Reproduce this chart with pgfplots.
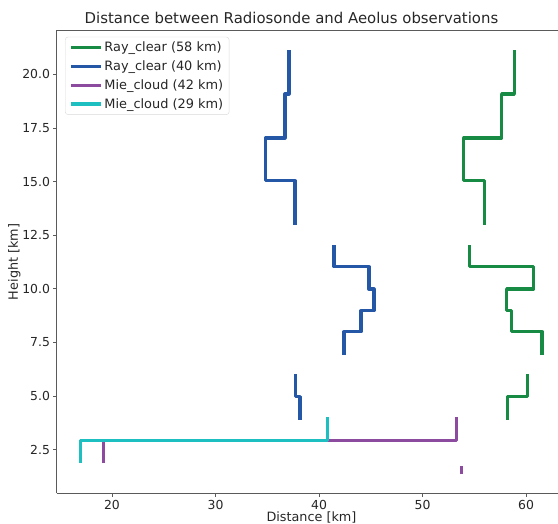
\documentclass[border=0pt]{standalone}
\usepackage{fontspec}
\setmainfont{DejaVu Sans}
\usepackage{pgfplots}
\pgfplotsset{compat=1.18}
\definecolor{cgreen}{HTML}{178A43}
\definecolor{cblue}{HTML}{2457A6}
\definecolor{cpurple}{HTML}{8C4B9F}
\definecolor{ccyan}{HTML}{1EBFC0}
\definecolor{spine}{HTML}{5A5A5A}
\definecolor{txt}{HTML}{262626}
\begin{document}
\begin{tikzpicture}
\begin{axis}[
    scale only axis, width=501pt, height=463.2pt,
    xmin=14.686, xmax=63.09, ymin=0.463, ymax=22.05,
    axis y line*=left, axis x line*=box,
    axis line style={spine, line width=1pt},
    xtick={20,30,40,50,60}, ytick={2.5,5,...,20},
    tick pos=left, tick align=outside, major tick length=3.5pt,
    tick style={spine, line width=0.8pt},
    /pgf/number format/assume math mode=true,
    yticklabel style={/pgf/number format/fixed, /pgf/number format/fixed zerofill, /pgf/number format/precision=1},
    ticklabel style={font=\fontsize{12.4}{14}\selectfont, text=txt},
    xlabel={Distance [km]}, ylabel={Height [km]},
    label style={font=\fontsize{12.8}{14}\selectfont, text=txt},
    xlabel style={at={(axis description cs:0.508,0)}, anchor=north, yshift=-15pt},
    ylabel style={yshift=-5pt},
    title={Distance between Radiosonde and Aeolus observations},
    title style={font=\fontsize{14.9}{16}\selectfont, text=txt, at={(axis description cs:0.468,1)}, yshift=-3pt},
    unbounded coords=jump,
    every axis plot/.append style={line width=3.2pt, line join=round},
    legend cell align=left,
    legend image code/.code={\draw[#1, line width=3.2pt] (0pt,0pt) -- (30pt,0pt);},
    legend style={at={(axis description cs:0.016,0.986)}, anchor=north west,
        font=\fontsize{12.9}{14}\selectfont, text=txt, draw=black!15, rounded corners=3pt,
        row sep=3.5pt, inner xsep=4pt, inner ysep=3pt},
]
\addplot[cgreen] coordinates {
 (58.87,21.13) (58.87,19.08) (57.65,19.08) (57.65,17.03) (53.98,17.03) (53.98,15.04) (55.97,15.04) (55.97,12.97)
 (nan,nan)
 (54.52,12.04) (54.52,11.03) (60.74,11.03) (60.74,9.99) (58.13,9.99) (58.13,8.98) (58.61,8.98) (58.61,8.0) (61.55,8.0) (61.55,6.93)
 (nan,nan)
 (60.16,6.03) (60.16,4.98) (58.23,4.98) (58.23,3.88)
};
\addlegendentry{Ray\_clear (58 km)}
\addplot[cblue] coordinates {
 (37.10,21.13) (37.10,19.08) (36.71,19.08) (36.71,17.03) (34.81,17.03) (34.81,15.04) (37.68,15.04) (37.68,12.97)
 (nan,nan)
 (41.45,12.04) (41.45,11.03) (44.83,11.03) (44.83,9.99) (45.31,9.99) (45.31,8.98) (44.06,8.98) (44.06,8.0) (42.42,8.0) (42.42,6.93)
 (nan,nan)
 (37.75,6.03) (37.75,4.98) (38.16,4.98) (38.16,3.88)
};
\addlegendentry{Ray\_clear (40 km)}
\addplot[cpurple] coordinates {
 (19.2,1.88) (19.2,2.95) (53.3,2.95) (53.3,4.04)
 (nan,nan)
 (53.75,1.37) (53.75,1.75)
};
\addlegendentry{Mie\_cloud (42 km)}
\addplot[ccyan] coordinates {
 (16.97,1.88) (16.97,2.95) (40.84,2.95) (40.84,4.04)
};
\addlegendentry{Mie\_cloud (29 km)}
\end{axis}
\pgfresetboundingbox
\useasboundingbox (-57pt,-30.3pt) rectangle (501pt,493.5pt);
\end{tikzpicture}
\end{document}
